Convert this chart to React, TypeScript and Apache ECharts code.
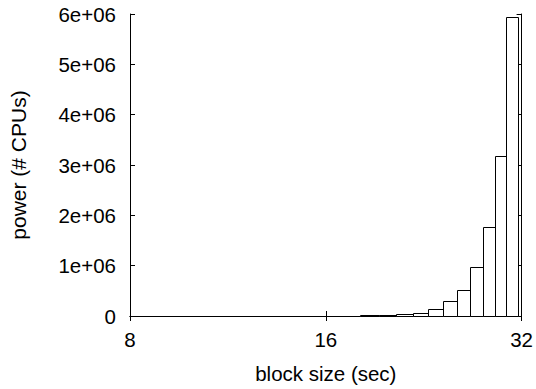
import React, { useEffect, useRef } from "react";
import * as echarts from "echarts";

// Block sizes (sec): centre of each box
const blockSizes = [13.80, 15.02, 16.25, 17.47, 18.69, 19.92, 21.14, 22.36, 23.59, 24.81, 26.03, 27.26, 28.48, 29.70, 30.93];
// Power (# CPUs)
const power = [900, 1600, 3000, 5500, 10000, 19000, 35000, 64000, 130000, 290000, 515000, 975000, 1770000, 3180000, 5950000];
// Box width in x units (sec)
const BOX_WIDTH = 1.222;
const xTicks = [8, 16, 32];
const yMax = 6e6;
const yStep = 1e6;

const FONT = "'Liberation Sans', Arial, Helvetica, sans-serif";

export default function App() {
  const ref = useRef<HTMLDivElement>(null);
  useEffect(() => {
    if (!ref.current) return;
    const chart = echarts.init(ref.current, undefined, { renderer: "svg" });
    const data = blockSizes.map((x, i) => [x, power[i]]);
    const axisLine = { show: true, lineStyle: { color: "#000", width: 1 } };
    chart.setOption({
      animation: false,
      backgroundColor: "#fff",
      textStyle: { fontFamily: FONT },
      grid: { left: 129, right: 13, top: 14, bottom: 64, containLabel: false },
      xAxis: [
        {
          type: "log",
          logBase: 2,
          min: xTicks[0],
          max: xTicks[xTicks.length - 1],
          position: "bottom",
          axisLine,
          axisTick: { show: true, inside: true, length: 5, lineStyle: { color: "#000" } },
          minorTick: { show: false },
          splitLine: { show: false },
          axisLabel: { color: "#000", fontSize: 20.5, fontFamily: FONT, margin: 13 },
          name: "block size (sec)",
          nameLocation: "middle",
          nameGap: 47,
          nameTextStyle: { color: "#000", fontSize: 20.5, fontFamily: FONT },
        },
        {
          type: "log",
          logBase: 2,
          min: xTicks[0],
          max: xTicks[xTicks.length - 1],
          position: "top",
          axisLine,
          axisTick: { show: true, inside: true, length: 5, lineStyle: { color: "#000" } },
          splitLine: { show: false },
          axisLabel: { show: false },
        },
      ],
      yAxis: [
        {
          type: "value",
          min: 0,
          max: yMax,
          interval: yStep,
          position: "left",
          axisLine,
          axisTick: { show: true, inside: true, length: 5, lineStyle: { color: "#000" } },
          splitLine: { show: false },
          axisLabel: {
            color: "#000",
            fontSize: 20.5,
            fontFamily: FONT,
            margin: 14,
            formatter: (v: number) => (v === 0 ? "0" : `${Math.round(v / 1e6)}e+06`),
          },
          name: "power (# CPUs)",
          nameLocation: "middle",
          nameGap: 101,
          nameTextStyle: { color: "#000", fontSize: 21, fontFamily: FONT },
        },
        {
          type: "value",
          min: 0,
          max: yMax,
          interval: yStep,
          position: "right",
          axisLine,
          axisTick: { show: true, inside: true, length: 5, lineStyle: { color: "#000" } },
          splitLine: { show: false },
          axisLabel: { show: false },
        },
      ],
      series: [
        {
          type: "custom",
          xAxisIndex: 0,
          yAxisIndex: 0,
          encode: { x: 0, y: 1 },
          data,
          renderItem: (params: any, api: any) => {
            const x = api.value(0);
            const y = api.value(1);
            const p0 = api.coord([x - BOX_WIDTH / 2, 0]);
            const p1 = api.coord([x + BOX_WIDTH / 2, y]);
            return {
              type: "rect",
              shape: {
                x: Math.round(p0[0]) + 0.5,
                y: Math.round(p1[1]) + 0.5,
                width: Math.round(p1[0]) - Math.round(p0[0]),
                height: Math.round(p0[1]) - Math.round(p1[1]),
              },
              style: { fill: "#fff", stroke: "#000", lineWidth: 1 },
            };
          },
        },
      ],
    });
    return () => chart.dispose();
  }, []);
  return (
    <div
      ref={ref}
      style={{ position: "fixed", left: 0, top: 0, width: 536, height: 389, overflow: "hidden" }}
    />
  );
}
